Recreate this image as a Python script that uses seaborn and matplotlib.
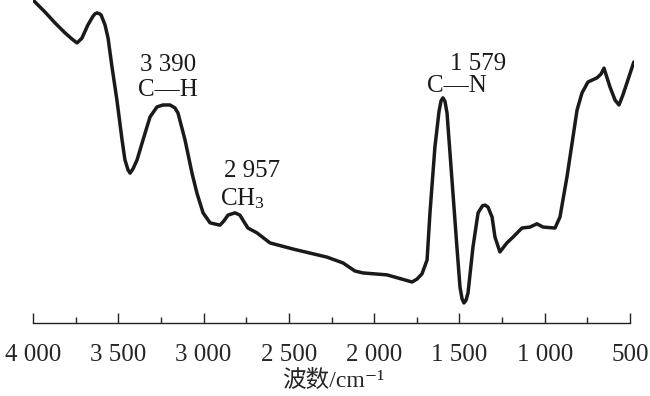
import matplotlib
matplotlib.use("Agg")
import matplotlib.pyplot as plt
import seaborn as sns
import pandas as pd
import numpy as np

# wavenumber (cm^-1) and transmittance (arbitrary units)
wavenumber = [4000, 3930, 3871, 3812, 3771, 3742, 3713, 3678, 3648, 3637, 3625, 3613, 3601, 3578, 3560,
              3537, 3508, 3478, 3461, 3443, 3431, 3414, 3390, 3355, 3314, 3273, 3238, 3197,
              3168, 3150, 3109, 3068, 3039, 3003, 2962, 2904, 2881, 2857, 2816, 2787, 2763,
              2740, 2687, 2611, 2476, 2277, 2183, 2113, 2066, 1925, 1778, 1749, 1720, 1690,
              1673, 1644, 1620, 1608, 1597, 1585, 1573, 1544, 1515, 1497, 1485, 1474, 1462, 1450,
              1421, 1391, 1365, 1350, 1333, 1309, 1292, 1263, 1222, 1186, 1134, 1087, 1046, 1010,
              940, 911, 870, 840, 811, 782, 747, 694, 670, 653, 618, 588, 565, 542, 513, 478]
transmittance = [100.0, 96.3, 92.9, 89.8, 87.9, 86.7, 88.2, 92.3, 95.0, 95.7, 96.0, 95.8, 95.4, 92.3, 88.2,
                 79.3, 69.0, 56.7, 50.5, 47.4, 46.4, 47.7, 50.5, 56.7, 63.8, 66.9, 67.5, 67.5,
                 66.6, 65.0, 56.7, 46.4, 40.2, 34.1, 31.0, 30.3, 31.6, 33.4, 34.1, 33.4, 31.3,
                 29.4, 27.9, 24.8, 22.9, 20.4, 18.6, 16.1, 15.5, 14.9, 12.7, 13.6, 15.2, 19.5,
                 34.1, 54.5, 65.5, 68.8, 69.7, 68.6, 65.0, 44.3, 23.5, 11.1, 7.5, 6.2, 7.0, 9.3,
                 23.5, 34.1, 36.3, 36.5, 35.9, 32.8, 26.6, 22.0, 24.8, 26.6, 29.4, 29.7, 30.7, 29.7,
                 29.4, 32.8, 45.2, 55.7, 65.9, 71.2, 74.6, 75.9, 77.1, 78.9, 73.1, 69.0, 67.5, 70.6,
                 75.2, 80.8]

tick_values = [4000, 3500, 3000, 2500, 2000, 1500, 1000, 500]
tick_labels = ["4 000", "3 500", "3 000", "2 500", "2 000", "1 500", "1 000", "500"]

ann_wn = ["3 390", "2 957", "1 579"]
ann_bond = ["C\u2014H", "CH$_3$", "C\u2014N"]

sns.set_style("white")
plt.rcParams["font.family"] = ["Liberation Serif", "Noto Sans CJK SC", "DejaVu Sans"]
plt.rcParams["mathtext.fontset"] = "custom"
plt.rcParams["mathtext.rm"] = "Liberation Serif"
plt.rcParams["mathtext.it"] = "Liberation Serif"
plt.rcParams["mathtext.default"] = "regular"

df = pd.DataFrame({"wavenumber": wavenumber, "T": transmittance})

fig = plt.figure(figsize=(6.5, 3.96), dpi=100)
ax = fig.add_axes([33 / 650, 1 - 323 / 396, 601 / 650, 323 / 396])
sns.lineplot(data=df, x="wavenumber", y="T", ax=ax, color="#1a1a1a", linewidth=2.5,
             sort=False, solid_joinstyle="round", solid_capstyle="round")

ax.set_xlim(4000, 477)
ax.set_ylim(0, 100)
for s in ["left", "top", "right"]:
    ax.spines[s].set_visible(False)
ax.spines["bottom"].set_bounds(500, 4000)
ax.spines["bottom"].set_linewidth(1.0)
ax.spines["bottom"].set_color("#222222")

ax.set_xticks(tick_values)
ax.set_xticklabels(tick_labels, fontsize=18)
ax.set_xticks(np.arange(750, 4000, 500), minor=True)
ax.tick_params(axis="x", which="both", bottom=True)
ax.tick_params(axis="x", which="major", direction="in", length=7, width=1, pad=15, color="#222222")
ax.tick_params(axis="x", which="minor", direction="in", length=4, width=1, color="#222222")
ax.set_yticks([])
ax.set_ylabel("")
ax.set_xlabel("波数/cm\u207b\u00b9", fontsize=17, labelpad=3)

# annotations
pos_wn = [(3209, 79.9), (2716, 47.1), (1391, 80.2)]
pos_bond = [(3209, 72.1), (2770, 38.6), (1515, 73.4)]
for lbl, (x, y) in zip(ann_wn, pos_wn):
    ax.text(x, y, lbl, ha="center", va="center", fontsize=18, color="#1a1a1a")
for lbl, (x, y) in zip(ann_bond, pos_bond):
    ax.text(x, y, lbl, ha="center", va="center", fontsize=18, color="#1a1a1a")

fig.savefig("out.png", dpi=100)
